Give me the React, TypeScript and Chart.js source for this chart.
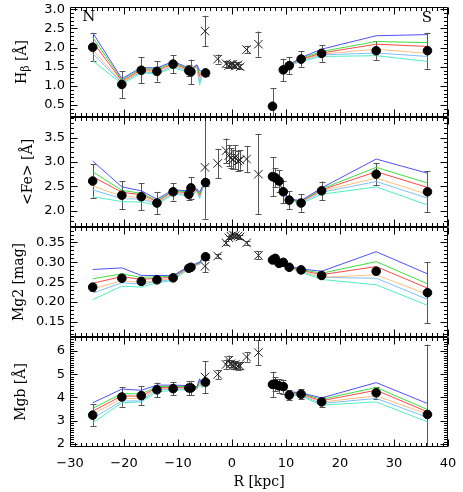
import React, { useEffect, useRef } from 'react';
import { Chart, registerables } from 'chart.js';

Chart.register(...registerables);

// ---------------- data ----------------
const xTicks = [-30, -20, -10, 0, 10, 20, 30, 40];
const hbTicks = [0.5, 1.0, 1.5, 2.0, 2.5, 3.0];
const feTicks = [2.0, 2.5, 3.0, 3.5];
const mg2Ticks = [0.15, 0.2, 0.25, 0.3, 0.35];
const mgbTicks = [2, 3, 4, 5, 6];

// filled circles (R in kpc)
const circleR = [-25.8, -20.4, -16.8, -13.9, -10.9, -8.0, -7.6, -4.9, 7.5, 8.0, 8.7, 9.5, 10.6, 12.8, 16.6, 26.7, 36.2];
const hbVal = [2.01, 1.04, 1.41, 1.38, 1.57, 1.40, 1.37, 1.34, 0.47, null, null, 1.42, 1.53, 1.70, 1.85, 1.92, 1.92];
const hbErr = [0.36, 0.35, 0.34, 0.27, 0.23, 0.15, 0.32, 0.08, 0.48, null, null, 0.29, 0.23, 0.2, 0.22, 0.24, 0.47];
const feVal = [2.61, 2.32, 2.29, 2.16, 2.39, 2.34, 2.47, 2.58, 2.70, 2.68, 2.61, 2.39, 2.22, 2.16, 2.41, 2.75, 2.39];
const feErr = [0.35, 0.29, 0.28, 0.23, 0.18, 0.11, 0.22, 0.08, 0.4, 0.2, 0.23, 0.23, 0.18, 0.18, 0.19, 0.23, 0.42];
const mg2Val = [0.2375, 0.26, 0.252, 0.256, 0.261, 0.285, 0.2875, 0.314, 0.306, 0.31, 0.2975, 0.30, 0.2875, 0.281, 0.267, 0.2775, 0.2235];
const mg2Err = [0.009, 0.006, 0.006, 0.005, 0.005, 0.005, 0.005, 0.008, 0.007, 0.005, 0.005, 0.005, 0.004, 0.004, 0.004, 0.006, 0.077];
const mgbVal = [3.24, 4.02, 4.08, 4.33, 4.38, 4.41, 4.41, 4.66, 4.56, 4.58, 4.5, 4.47, 4.1, 4.14, 3.81, 4.2, 3.27];
const mgbErr = [0.46, 0.42, 0.4, 0.31, 0.27, 0.3, 0.3, 0.1, 0.55, 0.3, 0.3, 0.3, 0.2, 0.22, 0.2, 0.25, 3.0];

// crosses (central region)
const crossR = [-5.0, -2.65, -1.1, -0.6, -0.2, 0.2, 0.6, 1.1, 1.5, 2.7, 4.9];
const hbCross = [2.43, 1.70, 1.58, 1.53, 1.56, 1.57, 1.52, 1.55, 1.50, 1.95, 2.09];
const hbCrossErr = [0.4, 0.12, 0.08, 0.06, 0.07, 0.06, 0.06, 0.07, 0.06, 0.1, 0.33];
const feCross = [2.89, 2.97, 3.23, 3.13, 3.08, 3.05, 3.10, 3.02, 3.04, 3.06, 2.75];
const feCrossErr = [1.05, 0.3, 0.25, 0.22, 0.2, 0.2, 0.25, 0.2, 0.2, 0.27, 0.82];
const mg2Cross = [0.29, 0.316, 0.349, 0.362, 0.366, 0.368, 0.367, 0.366, 0.364, 0.349, 0.3175];
const mg2CrossErr = [0.015, 0.006, 0.005, 0.004, 0.004, 0.004, 0.004, 0.004, 0.004, 0.005, 0.01];
const mgbCross = [4.88, 4.99, 5.42, 5.6, 5.45, 5.38, 5.42, 5.35, 5.36, 5.74, 5.93];
const mgbCrossErr = [0.69, 0.2, 0.2, 0.2, 0.15, 0.15, 0.15, 0.15, 0.15, 0.2, 0.55];

// model curves (6 models: blue, green, red, orange, light blue, aquamarine)
const modelLeftR = [-25.8, -20.4, -16.8, -13.9, -10.9, -8.0, -7.6, -6.5, -6.0, -5.5, -5.0];
const modelRightR = [8.7, 9.5, 10.6, 12.8, 16.6, 26.7, 36.2];

const hbModelL = [
  [2.39, 1.19, 1.48, 1.47, 1.64, 1.47, 1.45, 1.55, 1.40, 1.38, 1.35],
  [2.27, 1.16, 1.45, 1.44, 1.61, 1.45, 1.43, 1.54, 1.32, 1.36, 1.34],
  [2.15, 1.13, 1.42, 1.41, 1.58, 1.43, 1.41, 1.53, 1.25, 1.35, 1.33],
  [1.94, 1.10, 1.39, 1.37, 1.55, 1.40, 1.38, 1.52, 1.18, 1.33, 1.32],
  [1.85, 1.08, 1.37, 1.34, 1.52, 1.38, 1.36, 1.51, 1.10, 1.32, 1.31],
  [1.66, 1.05, 1.34, 1.31, 1.48, 1.35, 1.33, 1.50, 1.02, 1.30, 1.30],
];
const hbModelR = [
  [null, 1.44, 1.56, 1.74, 1.96, 2.31, 2.34],
  [null, 1.44, 1.55, 1.72, 1.90, 2.16, 2.13],
  [null, 1.43, 1.55, 1.70, 1.86, 2.09, 2.03],
  [null, 1.43, 1.54, 1.68, 1.83, 1.96, 1.85],
  [null, 1.42, 1.53, 1.66, 1.81, 1.86, 1.77],
  [null, 1.42, 1.52, 1.64, 1.77, 1.79, 1.64],
];
const feModelL = [
  [3.02, 2.49, 2.41, 2.24, 2.43, 2.41, 2.40, 2.45, 2.38, 2.50, 2.55],
  [2.80, 2.42, 2.36, 2.21, 2.41, 2.39, 2.38, 2.44, 2.34, 2.48, 2.54],
  [2.70, 2.38, 2.33, 2.19, 2.40, 2.37, 2.36, 2.43, 2.32, 2.47, 2.53],
  [2.51, 2.30, 2.27, 2.17, 2.38, 2.35, 2.34, 2.42, 2.30, 2.46, 2.52],
  [2.43, 2.25, 2.24, 2.15, 2.36, 2.33, 2.32, 2.41, 2.28, 2.45, 2.51],
  [2.29, 2.19, 2.18, 2.12, 2.34, 2.31, 2.30, 2.40, 2.25, 2.44, 2.50],
];
const feModelR = [
  [2.60, 2.40, 2.24, 2.21, 2.47, 3.06, 2.77],
  [2.60, 2.39, 2.23, 2.20, 2.45, 2.89, 2.57],
  [2.59, 2.39, 2.23, 2.19, 2.43, 2.80, 2.48],
  [2.59, 2.38, 2.22, 2.18, 2.41, 2.67, 2.34],
  [2.58, 2.38, 2.22, 2.17, 2.38, 2.60, 2.26],
  [2.58, 2.37, 2.21, 2.15, 2.34, 2.49, 2.12],
];
const mg2ModelL = [
  [0.282, 0.286, 0.267, 0.267, 0.267, 0.290, 0.291, 0.298, 0.300, 0.312, 0.312],
  [0.2585, 0.271, 0.262, 0.264, 0.265, 0.289, 0.290, 0.297, 0.299, 0.311, 0.311],
  [0.2475, 0.264, 0.257, 0.260, 0.262, 0.288, 0.289, 0.296, 0.298, 0.310, 0.310],
  [0.2335, 0.254, 0.249, 0.255, 0.259, 0.287, 0.288, 0.295, 0.297, 0.309, 0.309],
  [0.2225, 0.2485, 0.245, 0.252, 0.257, 0.286, 0.287, 0.294, 0.296, 0.308, 0.308],
  [0.206, 0.240, 0.2375, 0.2485, 0.254, 0.284, 0.285, 0.293, 0.295, 0.307, 0.307],
];
const mg2ModelR = [
  [0.300, 0.298, 0.290, 0.2835, 0.2775, 0.3268, 0.271],
  [0.300, 0.297, 0.289, 0.282, 0.2725, 0.3018, 0.246],
  [0.299, 0.297, 0.288, 0.280, 0.269, 0.2893, 0.235],
  [0.299, 0.296, 0.287, 0.278, 0.2625, 0.2685, 0.2193],
  [0.298, 0.296, 0.287, 0.277, 0.262, 0.260, 0.2068],
  [0.298, 0.295, 0.286, 0.275, 0.2568, 0.2435, 0.1918],
];
const mgbModelL = [
  [3.77, 4.36, 4.31, 4.53, 4.53, 4.51, 4.50, 4.45, 4.80, 4.55, 4.75],
  [3.53, 4.17, 4.15, 4.47, 4.47, 4.47, 4.46, 4.43, 4.75, 4.52, 4.72],
  [3.41, 4.07, 4.05, 4.43, 4.43, 4.44, 4.43, 4.42, 4.70, 4.50, 4.70],
  [3.28, 3.96, 3.95, 4.38, 4.40, 4.41, 4.40, 4.40, 4.65, 4.48, 4.68],
  [3.10, 3.85, 3.85, 4.33, 4.35, 4.38, 4.37, 4.38, 4.60, 4.45, 4.66],
  [2.91, 3.77, 3.81, 4.24, 4.30, 4.35, 4.34, 4.36, 4.55, 4.42, 4.64],
];
const mgbModelR = [
  [4.52, 4.45, 4.25, 4.20, 3.98, 4.64, 3.74],
  [4.51, 4.44, 4.22, 4.17, 3.92, 4.43, 3.48],
  [4.50, 4.43, 4.20, 4.14, 3.86, 4.31, 3.38],
  [4.50, 4.42, 4.18, 4.11, 3.80, 4.07, 3.28],
  [4.49, 4.41, 4.15, 4.08, 3.74, 3.96, 3.14],
  [4.48, 4.40, 4.12, 4.05, 3.67, 3.81, 2.95],
];

const sideLabels = [
  { text: 'N', x: -26.5, y: 2.8 },
  { text: 'S', x: 36.1, y: 2.78 },
];

// ---------------- styles / config ----------------
const MODEL_COLORS = ['#5050ff', '#3ee03e', '#ff4848', '#ffbe7d', '#7fbfff', '#4fefc0'];
const TICK_FONT = { family: 'DejaVu Sans', size: 13 };
const TITLE_FONT = { family: 'DejaVu Serif', size: 14 };

const PANELS = [
  { id: 'yHb', title: 'Hβ [Å]', custom: true, min: 0.19, max: 3.06, ticks: hbTicks, minor: 0.1, dec: 1, titlePad: 13.6,
    circ: hbVal, circErr: hbErr, cross: hbCross, crossErr: hbCrossErr, modL: hbModelL, modR: hbModelR },
  { id: 'yFe', title: '<Fe> [Å]', custom: false, min: 1.67, max: 3.92, ticks: feTicks, minor: 0.1, dec: 1, titlePad: 19.6,
    circ: feVal, circErr: feErr, cross: feCross, crossErr: feCrossErr, modL: feModelL, modR: feModelR },
  { id: 'yMg2', title: 'Mg2 [mag]', custom: false, min: 0.112, max: 0.389, ticks: mg2Ticks, minor: 0.01, dec: 2, titlePad: 10.6,
    circ: mg2Val, circErr: mg2Err, cross: mg2Cross, crossErr: mg2CrossErr, modL: mg2ModelL, modR: mg2ModelR },
  { id: 'yMgb', title: 'Mgb [Å]', custom: false, min: 1.87, max: 6.6, ticks: mgbTicks, minor: 0.1, dec: 0, titlePad: 12.6,
    circ: mgbVal, circErr: mgbErr, cross: mgbCross, crossErr: mgbCrossErr, modL: mgbModelL, modR: mgbModelR },
];

function buildDatasets() {
  const ds: any[] = [];
  PANELS.forEach((p) => {
    p.modL.forEach((row, k) => {
      const pts = [
        ...modelLeftR.map((x, i) => ({ x, y: row[i] })),
        { x: 1.5, y: null },
        ...modelRightR.map((x, i) => ({ x, y: p.modR[k][i] })),
      ];
      ds.push({
        data: pts, yAxisID: p.id, showLine: true, borderColor: MODEL_COLORS[k], borderWidth: 1,
        pointRadius: 0, pointHoverRadius: 0, spanGaps: false, fill: false, order: 3,
      });
    });
    ds.push({
      data: crossR.map((x, i) => ({ x, y: p.cross[i], e: p.crossErr[i] })),
      yAxisID: p.id, showLine: false, pointStyle: 'crossRot', pointRadius: 6,
      pointBorderColor: '#222', pointBackgroundColor: '#222', pointBorderWidth: 1, order: 2, errBars: true,
    });
    ds.push({
      data: circleR.map((x, i) => ({ x, y: p.circ[i], e: p.circErr[i] })).filter((pt) => pt.y != null),
      yAxisID: p.id, showLine: false, pointStyle: 'circle', pointRadius: 4.3,
      pointBorderColor: '#000', pointBackgroundColor: '#000', pointBorderWidth: 1, order: 1, errBars: true,
    });
  });
  return ds;
}

const minus = (v: number) => (v < 0 ? '\u2212' + Math.abs(v) : String(v));

function buildScales() {
  const scales: any = {
    x: {
      type: 'linear', position: 'bottom', min: -30, max: 40,
      afterBuildTicks: (s: any) => { s.ticks = xTicks.map((v) => ({ value: v })); },
      afterFit: (s: any) => { s.height = 45; s.paddingLeft = 0; s.paddingRight = 0; s.paddingTop = 0; s.paddingBottom = 0; },
      grid: { display: false, drawTicks: false }, border: { display: false },
      ticks: { autoSkip: false, maxRotation: 0, padding: 9, color: '#000', font: TICK_FONT,
        callback: (v: any) => minus(Number(v)) },
      title: { display: true, text: 'R [kpc]', color: '#000', font: TITLE_FONT, padding: { top: 0, bottom: 1 } },
    },
  };
  PANELS.forEach((p, idx) => {
    scales[p.id] = {
      type: 'linear', position: 'left', stack: 'panels', stackWeight: 1, weight: 10 - idx,
      min: p.min, max: p.max,
      afterBuildTicks: (s: any) => { s.ticks = p.ticks.map((v) => ({ value: v })); },
      afterFit: (s: any) => { s.width = 70; s.paddingTop = 0; s.paddingBottom = 0; s.paddingLeft = 0; s.paddingRight = 0; },
      grid: { display: false, drawTicks: false }, border: { display: false },
      ticks: { autoSkip: false, padding: 5, color: '#000', font: TICK_FONT,
        callback: (v: any) => Number(v).toFixed(p.dec) },
      title: { display: !p.custom, text: p.title, color: '#000', font: TITLE_FONT, padding: { top: p.titlePad, bottom: 0 } },
    };
  });
  return scales;
}

const decorPlugin = {
  id: 'decor',
  beforeDatasetsDraw(chart: any) {
    const ctx = chart.ctx;
    const xs = chart.scales.x;
    const ca = chart.chartArea;
    chart.data.datasets.forEach((ds: any) => {
      if (!ds.errBars) return;
      const ys = chart.scales[ds.yAxisID];
      ctx.save();
      ctx.beginPath();
      ctx.rect(ca.left, ys.top, ca.right - ca.left, ys.bottom - ys.top);
      ctx.clip();
      ctx.strokeStyle = '#555';
      ctx.lineWidth = 1;
      ds.data.forEach((pt: any) => {
        if (pt.y == null || pt.e == null) return;
        const px = Math.round(xs.getPixelForValue(pt.x)) + 0.5;
        const y1 = ys.getPixelForValue(pt.y + pt.e);
        const y2 = ys.getPixelForValue(pt.y - pt.e);
        ctx.beginPath();
        ctx.moveTo(px, y1); ctx.lineTo(px, y2);
        ctx.moveTo(px - 3, Math.round(y1) + 0.5); ctx.lineTo(px + 3, Math.round(y1) + 0.5);
        ctx.moveTo(px - 3, Math.round(y2) + 0.5); ctx.lineTo(px + 3, Math.round(y2) + 0.5);
        ctx.stroke();
      });
      ctx.restore();
    });
  },
  afterDatasetsDraw(chart: any) {
    const ctx = chart.ctx;
    const xs = chart.scales.x;
    const ca = chart.chartArea;
    const L = Math.round(ca.left) + 0.5;
    const R = Math.round(ca.right) - 0.5;
    ctx.save();
    ctx.strokeStyle = '#000';
    ctx.lineWidth = 1;
    PANELS.forEach((p) => {
      const ys = chart.scales[p.id];
      const T = Math.round(ys.top) + 0.5;
      const B = Math.round(ys.bottom) - 0.5;
      ctx.beginPath();
      ctx.rect(L, T, R - L, B - T);
      const k0 = Math.ceil(p.min / p.minor - 1e-9);
      const k1 = Math.floor(p.max / p.minor + 1e-9);
      for (let k = k0; k <= k1; k++) {
        const v = k * p.minor;
        const major = p.ticks.some((t) => Math.abs(t - v) < p.minor / 10);
        const len = major ? 7 : 3.5;
        const py = Math.round(ys.getPixelForValue(v)) + 0.5;
        ctx.moveTo(L, py); ctx.lineTo(L + len, py);
        ctx.moveTo(R, py); ctx.lineTo(R - len, py);
      }
      for (let x = -30; x <= 40; x += 1) {
        const major = x % 10 === 0;
        const len = major ? 7 : 3.5;
        const px = Math.round(xs.getPixelForValue(x)) + 0.5;
        ctx.moveTo(px, T); ctx.lineTo(px, T + len);
        ctx.moveTo(px, B); ctx.lineTo(px, B - len);
      }
      ctx.stroke();

      // custom title with subscript (H_beta)
      if (p.custom) {
        const cy = (ys.top + ys.bottom) / 2;
        ctx.save();
        ctx.fillStyle = '#000';
        ctx.translate(ys.left + p.titlePad + 8.4, cy);
        ctx.rotate(-Math.PI / 2);
        ctx.textBaseline = 'middle';
        ctx.textAlign = 'left';
        const big = '14px "DejaVu Serif"';
        const small = '11px "DejaVu Serif"';
        ctx.font = big;
        const wH = ctx.measureText('H').width;
        const wRest = ctx.measureText(' [Å]').width;
        ctx.font = small;
        const wB = ctx.measureText('β').width;
        let x0 = -(wH + wB + wRest) / 2;
        ctx.font = big;
        ctx.fillText('H', x0, 0);
        x0 += wH;
        ctx.font = small;
        ctx.fillText('β', x0, 4);
        x0 += wB;
        ctx.font = big;
        ctx.fillText(' [Å]', x0, 0);
        ctx.restore();
      }
    });
    const hb = chart.scales[PANELS[0].id];
    ctx.fillStyle = '#000';
    ctx.font = '15px "DejaVu Serif"';
    ctx.textAlign = 'center';
    ctx.textBaseline = 'middle';
    sideLabels.forEach((s) => {
      ctx.fillText(s.text, xs.getPixelForValue(s.x), hb.getPixelForValue(s.y));
    });
    ctx.restore();
  },
};

export default function App() {
  const ref = useRef<HTMLCanvasElement>(null);
  useEffect(() => {
    const chart = new Chart(ref.current as HTMLCanvasElement, {
      type: 'scatter',
      data: { datasets: buildDatasets() },
      options: {
        animation: false,
        responsive: false,
        devicePixelRatio: 1,
        events: [],
        layout: { padding: { left: 0, right: 15, top: 5, bottom: 0 } },
        plugins: { legend: { display: false }, tooltip: { enabled: false } },
        scales: buildScales(),
      } as any,
      plugins: [decorPlugin],
    });
    return () => chart.destroy();
  }, []);
  return (
    <div style={{ position: 'absolute', left: 0, top: 0, width: 463, height: 492, background: '#fff' }}>
      <canvas ref={ref} width={463} height={492} style={{ display: 'block' }} />
    </div>
  );
}
